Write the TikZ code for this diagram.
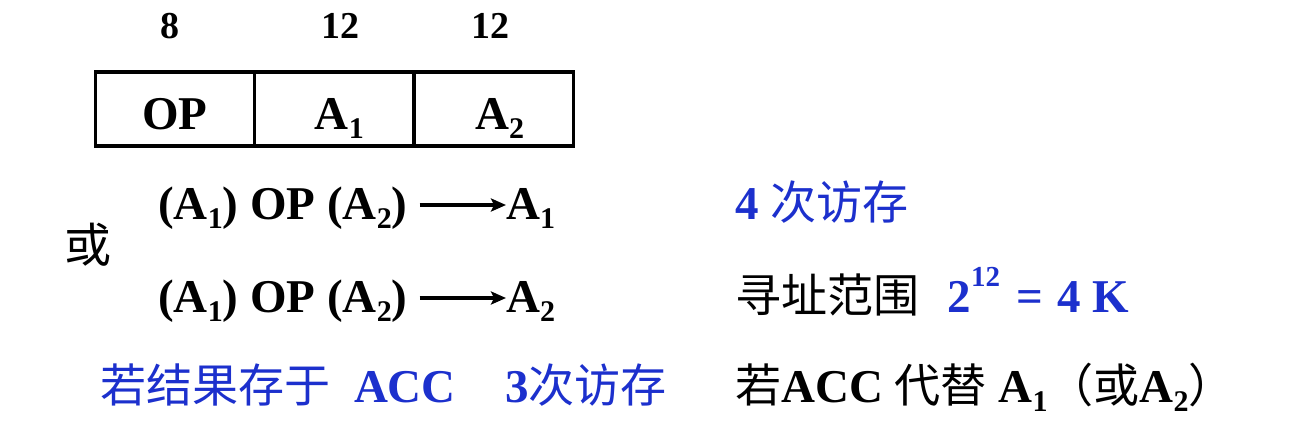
\documentclass[tikz,border=0pt]{standalone}
\usepackage{fontspec}
\usetikzlibrary{arrows.meta}
\setmainfont{Liberation Serif}
\newfontfamily\cjk{Noto Sans CJK SC}[Scale=0.98]
\definecolor{blueT}{RGB}{28,48,205}
\newcommand\lowidx[1]{\raisebox{-0.2em}{\fontsize{30}{30}\selectfont #1}}
\newcommand\highidx[1]{\raisebox{0.55em}{\fontsize{29}{29}\selectfont #1}}
\begin{document}
\begin{tikzpicture}[x=1pt,y=-1pt,
  txt/.style={inner sep=0pt, anchor=base west, font=\fontsize{47}{52}\selectfont\bfseries},
  num/.style={inner sep=0pt, anchor=base, font=\fontsize{38}{42}\selectfont\bfseries},
  cell/.style={draw, line width=3.5pt, minimum width=159.3pt, minimum height=74pt, inner sep=0pt,
    outer sep=0pt, font=\fontsize{47}{52}\selectfont\bfseries, text depth=0pt},
  blu/.style={text=blueT},
  arr/.style={line width=3.2pt, -{Stealth[length=15pt,width=13pt,inset=3pt]}}]
\useasboundingbox (0,0) rectangle (1304,445);
\fill[white] (0,0) rectangle (1304,445);
% field widths
\node[num] (n8)  at (170,38) {8};
\node[num] (n12a) at (340,38) {12};
\node[num] (n12b) at (490,38) {12};
% instruction format
\node[cell] (op) at (175,109) {\raisebox{-0.2em}{OP}};
\node[cell, anchor=west] (a1) at (op.east) {\hspace{10pt}\raisebox{-0.2em}{A\lowidx{1}}};
\node[cell, anchor=west] (a2) at (a1.east) {\hspace{12pt}\raisebox{-0.2em}{A\lowidx{2}}};
% alternatives
\node[inner sep=0pt, font=\fontsize{48}{50}\selectfont\cjk] (or) at (88,245) {或};
\node[txt] (r1L) at (158,219) {(A\lowidx{1}) OP (A\lowidx{2})};
\node[txt] (r1R) at (506,219) {A\lowidx{1}};
\draw[arr] ([shift={(12pt,14pt)}]r1L.base east) -- ([shift={(0pt,14pt)}]r1R.base west);
\node[txt] (r2L) at (158,312) {(A\lowidx{1}) OP (A\lowidx{2})};
\node[txt] (r2R) at (506,312) {A\lowidx{2}};
\draw[arr] ([shift={(12pt,14pt)}]r2L.base east) -- ([shift={(0pt,14pt)}]r2R.base west);
\node[txt, blu] (acc) at (100,402) {{\cjk\mdseries 若结果存于}\hspace{0.5em}ACC};
\node[txt, blu] (m3) at (505,402) {3{\cjk\mdseries 次访存}};
% right column
\node[txt, blu] (m4) at (735,219) {4 {\cjk\mdseries 次访存}};
\node[txt] (rng) at (735,312) {{\cjk\mdseries 寻址范围}\hspace{0.6em}\textcolor{blueT}{2\highidx{12}\hspace{0.35em}=\hspace{0.3em}4 K}};
\node[txt] (rep) at (735,402) {{\cjk\mdseries 若}ACC {\cjk\mdseries 代替} A\lowidx{1}{\cjk\mdseries （或}A\lowidx{2}{\cjk\mdseries ）}};
\end{tikzpicture}
\end{document}
